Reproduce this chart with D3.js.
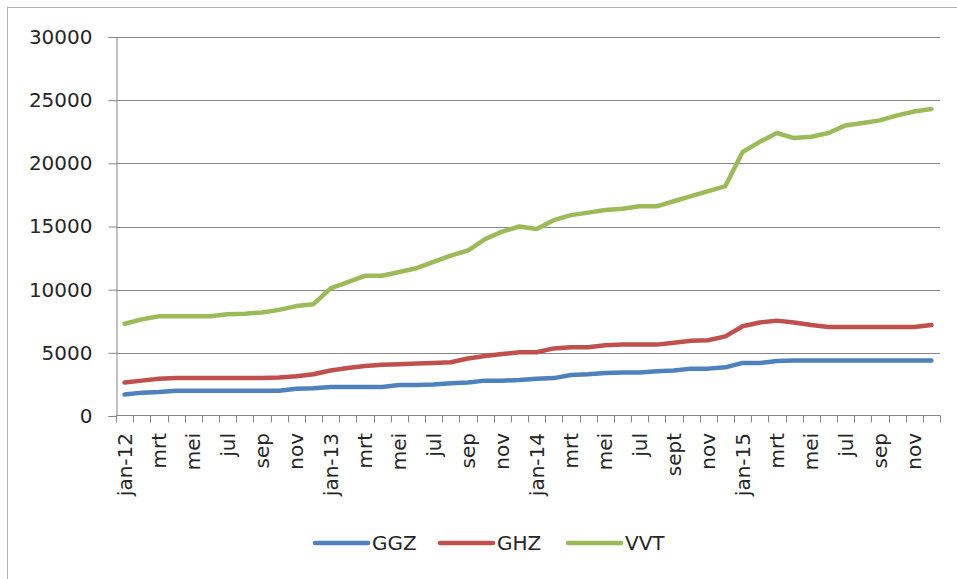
<!DOCTYPE html>
<html>
<head>
<meta charset="utf-8">
<script src="https://cdn.jsdelivr.net/npm/d3@7"></script>
<style>
  html, body { margin: 0; padding: 0; background: #fff; }
  svg text { font-family: "DejaVu Sans", sans-serif; fill: #262626; }
</style>
</head>
<body>
<svg id="chart" width="957" height="579"></svg>
<script>
/* ---------- data: maandelijkse aantallen jan-12 t/m dec-15 ---------- */
const months = [
  "jan-12", "feb", "mrt", "apr", "mei", "jun", "jul", "aug", "sep", "okt", "nov", "dec",
  "jan-13", "feb", "mrt", "apr", "mei", "jun", "jul", "aug", "sep", "okt", "nov", "dec",
  "jan-14", "feb", "mrt", "apr", "mei", "jun", "jul", "aug", "sept", "okt", "nov", "dec",
  "jan-15", "feb", "mrt", "apr", "mei", "jun", "jul", "aug", "sep", "okt", "nov", "dec"
];

const ggz = [
  1700, 1850, 1900, 2000, 2000, 2000, 2000, 2000, 2000, 2000, 2150, 2200,
  2300, 2300, 2300, 2300, 2450, 2450, 2500, 2600, 2650, 2800, 2800, 2850,
  2950, 3000, 3250, 3300, 3400, 3450, 3450, 3550, 3600, 3750, 3750, 3850,
  4200, 4200, 4350, 4400, 4400, 4400, 4400, 4400, 4400, 4400, 4400, 4400
];

const ghz = [
  2650, 2800, 2950, 3000, 3000, 3000, 3000, 3000, 3000, 3050, 3150, 3300,
  3600, 3800, 3950, 4050, 4100, 4150, 4200, 4250, 4550, 4750, 4900, 5050,
  5050, 5350, 5450, 5450, 5600, 5650, 5650, 5650, 5800, 5950, 6000, 6300,
  7100, 7400, 7550, 7400, 7200, 7050, 7050, 7050, 7050, 7050, 7050, 7200
];

const vvt = [
  7300, 7650, 7900, 7900, 7900, 7900, 8050, 8100, 8200, 8400, 8700, 8850,
  10100, 10600, 11100, 11100, 11400, 11700, 12200, 12700, 13100, 14000, 14600, 15000,
  14800, 15500, 15900, 16100, 16300, 16400, 16600, 16600, 17000, 17400, 17800, 18200,
  20900, 21700, 22400, 22000, 22100, 22400, 23000, 23200, 23400, 23800, 24100, 24300
];

const yTicks = [0, 5000, 10000, 15000, 20000, 25000, 30000];

const series = [
  { name: "GGZ", values: ggz, color: "#4F81BD" },
  { name: "GHZ", values: ghz, color: "#C0504D" },
  { name: "VVT", values: vvt, color: "#9BBB59" }
];

/* ---------- layout ---------- */
const plot = { left: 116, right: 940, top: 37, bottom: 416 };
const svg = d3.select("#chart");

// chart-rand (alleen boven/links zichtbaar)
svg.append("rect")
  .attr("x", 7.5).attr("y", 7.5)
  .attr("width", 1000).attr("height", 1000)
  .attr("fill", "none").attr("stroke", "#b0b0b0");

const x = d3.scaleBand()
  .domain(d3.range(months.length))
  .range([plot.left, plot.right]);

const y = d3.scaleLinear()
  .domain([0, 30000])
  .range([plot.bottom, plot.top]);

/* ---------- horizontale rasterlijnen ---------- */
svg.append("g")
  .selectAll("line")
  .data(yTicks.filter(d => d > 0))
  .join("line")
  .attr("x1", plot.left).attr("x2", plot.right)
  .attr("y1", d => Math.round(y(d)) + 0.5)
  .attr("y2", d => Math.round(y(d)) + 0.5)
  .attr("stroke", "#868686").attr("stroke-width", 1);

/* ---------- y-as ---------- */
const yAxis = svg.append("g")
  .attr("transform", `translate(${plot.left + 0.5},0)`)
  .call(d3.axisLeft(y).tickValues(yTicks).tickSize(8).tickPadding(16).tickFormat(d3.format("d")));
yAxis.select(".domain").attr("stroke", "#868686");
yAxis.selectAll(".tick line").attr("stroke", "#868686");
yAxis.selectAll(".tick text")
  .style("font-size", "20px")
  .style("font-family", "DejaVu Sans, sans-serif")
  .attr("fill", "#262626");

/* ---------- x-as ---------- */
const xAxisY = Math.round(plot.bottom) - 0.5;
const xg = svg.append("g");
xg.append("line")
  .attr("x1", plot.left).attr("x2", plot.right)
  .attr("y1", xAxisY).attr("y2", xAxisY)
  .attr("stroke", "#868686");

// tickmarks op de grenzen tussen maanden
const boundaries = d3.range(months.length + 1).map(i =>
  i < months.length ? x(i) : x(months.length - 1) + x.bandwidth());
xg.selectAll(".xtick")
  .data(boundaries)
  .join("line")
  .attr("class", "xtick")
  .attr("x1", d => Math.round(d) + 0.5).attr("x2", d => Math.round(d) + 0.5)
  .attr("y1", xAxisY).attr("y2", xAxisY + 7)
  .attr("stroke", "#868686");

// labels, elke tweede maand, 90 graden gedraaid
xg.selectAll(".xlabel")
  .data(d3.range(0, months.length, 2))
  .join("text")
  .attr("class", "xlabel")
  .attr("transform", i => `translate(${x(i) + x.bandwidth() / 2},${plot.bottom + 17}) rotate(-90)`)
  .attr("text-anchor", "end")
  .attr("dy", "0.35em")
  .style("font-size", "20px")
  .text(i => months[i]);

/* ---------- lijnen ---------- */
const line = d3.line()
  .x((d, i) => x(i) + x.bandwidth() / 2)
  .y(d => y(d));

svg.append("g")
  .selectAll("path")
  .data(series)
  .join("path")
  .attr("d", d => line(d.values))
  .attr("fill", "none")
  .attr("stroke", d => d.color)
  .attr("stroke-width", 4.5)
  .attr("stroke-linejoin", "round")
  .attr("stroke-linecap", "round");

/* ---------- legenda ---------- */
const legendX = [315, 440, 568];
const legend = svg.append("g")
  .selectAll("g")
  .data(series)
  .join("g")
  .attr("transform", (d, i) => `translate(${legendX[i]},543)`);
legend.append("line")
  .attr("x1", 0).attr("x2", 53)
  .attr("stroke", d => d.color)
  .attr("stroke-width", 4.5)
  .attr("stroke-linecap", "round");
legend.append("text")
  .attr("x", 57)
  .attr("dy", "0.36em")
  .style("font-size", "20px")
  .text(d => d.name);
</script>
</body>
</html>
